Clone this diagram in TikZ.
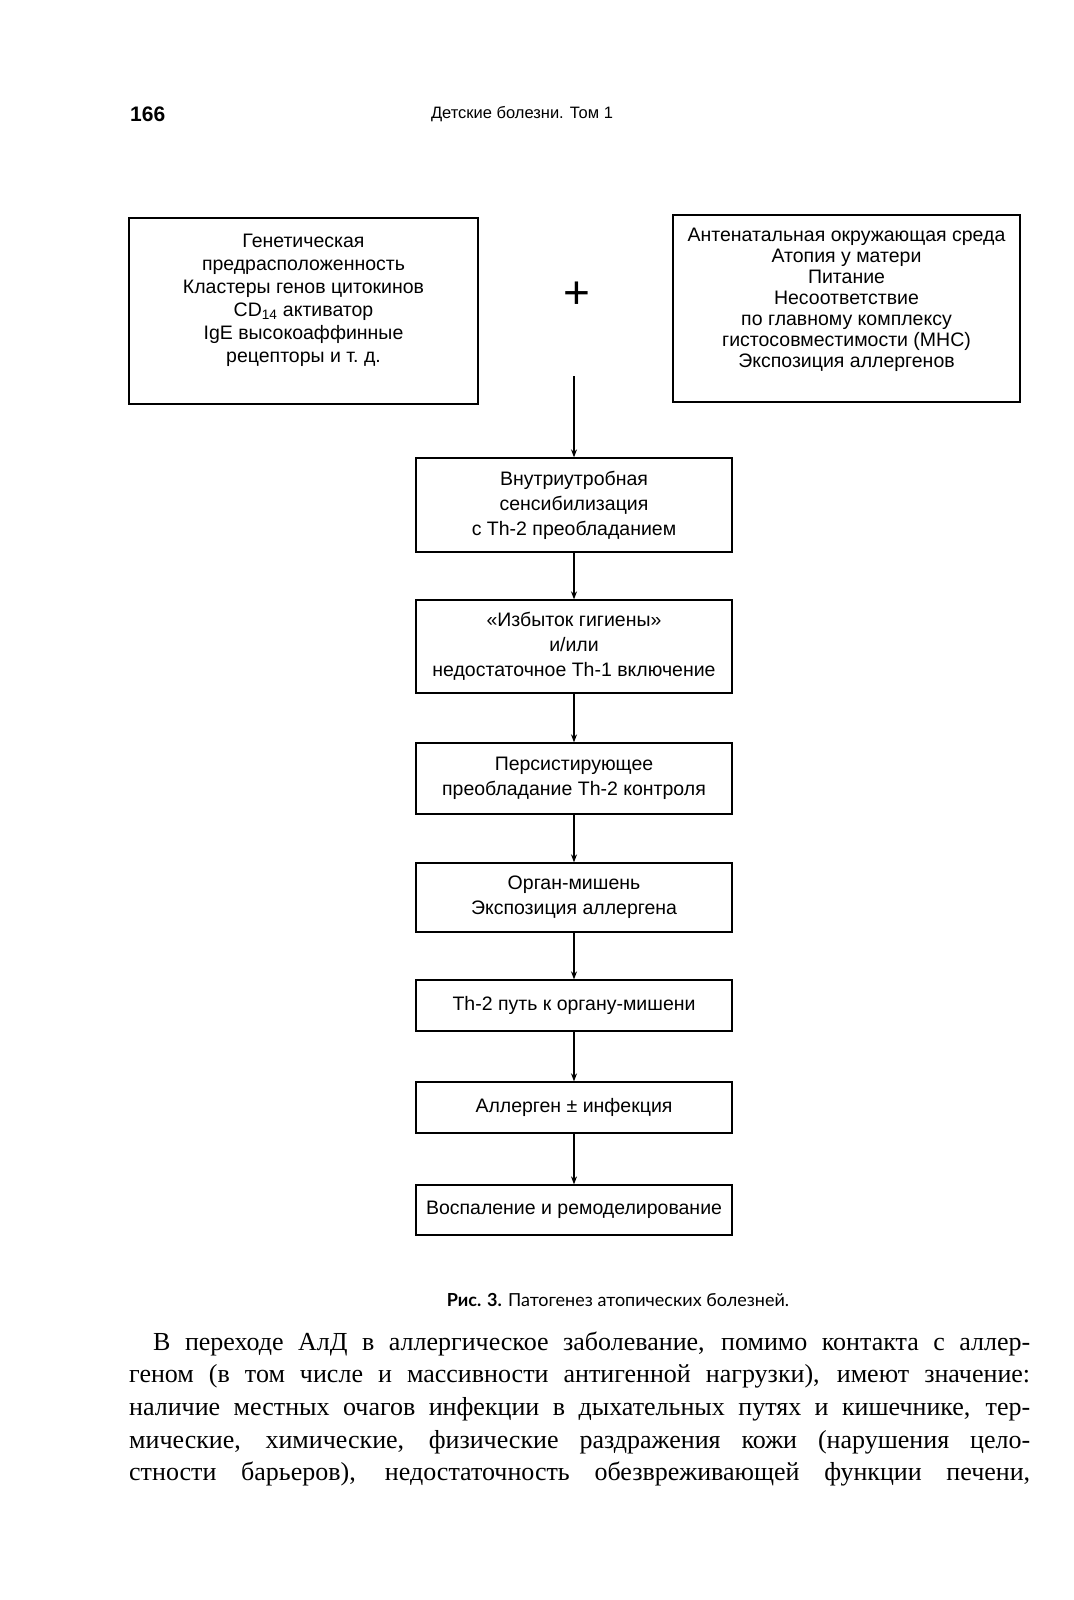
\documentclass[tikz,border=0pt]{standalone}
\usepackage{fontspec}
\setmainfont{Liberation Sans}
\newfontfamily\bodyserif{Liberation Serif}
\newfontfamily\capfont{Lato}
\usetikzlibrary{arrows.meta}
\tikzset{
  flowbox/.style={draw, line width=1.3pt, inner sep=0pt, align=center,
    minimum width=316pt, font=\fontsize{19.5}{25}\selectfont},
  topbox/.style={draw, line width=1.3pt, inner sep=0pt},
  toptext/.style={inner sep=0pt, align=center},
  arr/.style={line width=1.2pt, -{Stealth[length=8pt,width=6pt]}},
  bodyline/.style={anchor=west, inner sep=0pt, font=\bodyserif\fontsize{26}{30}\selectfont}
}
\begin{document}
\begin{tikzpicture}[x=1pt,y=-1pt]
\useasboundingbox (0,0) rectangle (1073,1600);
% header
\node[anchor=west, inner sep=0pt] (pg) at (130,114) {\bfseries\fontsize{21}{24}\selectfont 166};
\node[inner sep=0pt] (hd) at (522,114) {\fontsize{16.5}{20}\selectfont Детские болезни. Том 1};
% top boxes
\node[topbox, minimum width=349pt, minimum height=186pt] (gen) at (303.5,311) {};
\node[toptext, font=\fontsize{19.5}{23}\selectfont] (gentext) at (303.5,300) {Генетическая\\предрасположенность\\Кластеры генов цитокинов\\CD\textsubscript{14} активатор\\IgE высокоаффинные\\рецепторы и т.~д.};
\node[topbox, minimum width=347pt, minimum height=187pt] (env) at (846.5,308.5) {};
\node[toptext, font=\fontsize{19.5}{21}\selectfont] (envtext) at (846.5,299.5) {Антенатальная окружающая среда\\Атопия у матери\\Питание\\Несоответствие\\по главному комплексу\\гистосовместимости (MHC)\\Экспозиция аллергенов};
\node[inner sep=0pt] (plus) at (577,295) {\fontsize{46}{46}\selectfont +};
% flow column
\node[flowbox, minimum height=94pt] (b1) at (574,505) {Внутриутробная\\сенсибилизация\\с Th-2 преобладанием};
\node[flowbox, minimum height=93pt] (b2) at (574,646.5) {«Избыток гигиены»\\и/или\\недостаточное Th-1 включение};
\node[flowbox, minimum height=71pt] (b3) at (574,778.5) {Персистирующее\\преобладание Th-2 контроля};
\node[flowbox, minimum height=69pt] (b4) at (574,897.5) {Орган-мишень\\Экспозиция аллергена};
\node[flowbox, minimum height=51pt] (b5) at (574,1005.5) {Th-2 путь к органу-мишени};
\node[flowbox, minimum height=51pt] (b6) at (574,1107.5) {Аллерген ± инфекция};
\node[flowbox, minimum height=50pt] (b7) at (574,1210) {Воспаление и ремоделирование};
\coordinate (start) at (574,376);
\draw[arr] (start) -- (b1.north);
\draw[arr] (b1.south) -- (b2.north);
\draw[arr] (b2.south) -- (b3.north);
\draw[arr] (b3.south) -- (b4.north);
\draw[arr] (b4.south) -- (b5.north);
\draw[arr] (b5.south) -- (b6.north);
\draw[arr] (b6.south) -- (b7.north);
% caption
\node[inner sep=0pt] (cap) at (618,1300) {\capfont\fontsize{18}{20}\selectfont\textbf{Рис. 3.} Патогенез атопических болезней.};
% body text
\node[bodyline] (l1) at (153,1344) {\makebox[877pt][s]{В переходе АлД в аллергическое заболевание, помимо контакта с аллер-}};
\node[bodyline] (l2) at (129,1376.6) {\makebox[901pt][s]{геном (в том числе и массивности антигенной нагрузки), имеют значение:}};
\node[bodyline] (l3) at (129,1409.2) {\makebox[901pt][s]{наличие местных очагов инфекции в дыхательных путях и кишечнике, тер-}};
\node[bodyline] (l4) at (129,1441.8) {\makebox[901pt][s]{мические, химические, физические раздражения кожи (нарушения цело-}};
\node[bodyline] (l5) at (129,1474.4) {\makebox[901pt][s]{стности барьеров), недостаточность обезвреживающей функции печени,}};
\end{tikzpicture}
\end{document}
